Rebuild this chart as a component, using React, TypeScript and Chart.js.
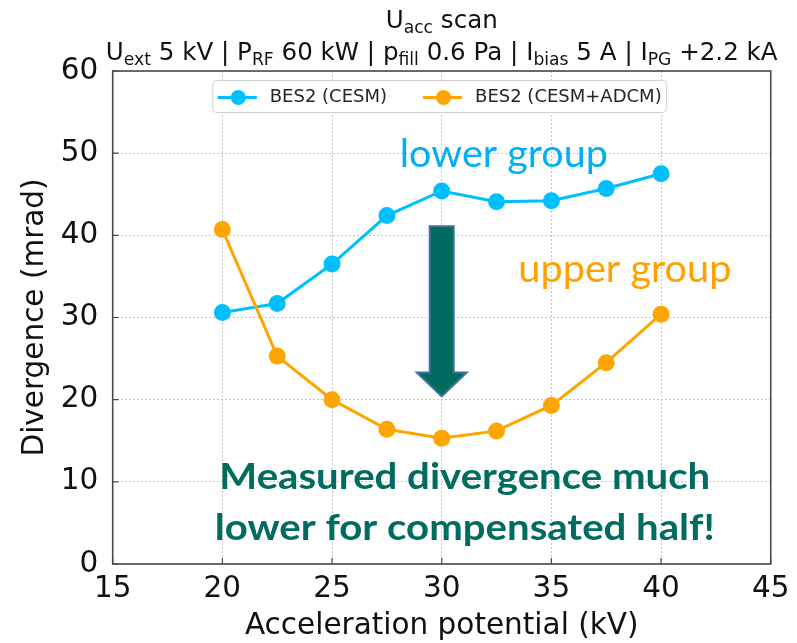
import React, { useEffect, useRef } from "react";
import { Chart, registerables } from "chart.js";

Chart.register(...registerables);

// Acceleration potential (kV) of each scan step
const accelerationKV = [20, 22.5, 25, 27.5, 30, 32.5, 35, 37.5, 40];
// Measured divergence (mrad) of the two beamlet groups
const divergenceCESM = [30.6, 31.7, 36.5, 42.4, 45.4, 44.1, 44.2, 45.7, 47.5];
const divergenceCESMADCM = [40.7, 25.3, 20.0, 16.4, 15.3, 16.2, 19.3, 24.5, 30.4];

const seriesNames = ["BES2 (CESM)", "BES2 (CESM+ADCM)"];
const seriesColors = ["#00BFFF", "#FFA500"];

const xLimits = [15, 45];
const xStep = 5;
const yLimits = [0, 60];
const yStep = 10;

const xAxisTitle = "Acceleration potential (kV)";
const yAxisTitle = "Divergence (mrad)";

type Seg = { t: string; sub?: boolean };
const titleLine: Seg[] = [{ t: "U" }, { t: "acc", sub: true }, { t: " scan" }];
const subtitleLine: Seg[] = [
  { t: "U" }, { t: "ext", sub: true }, { t: " 5 kV | P" }, { t: "RF", sub: true },
  { t: " 60 kW | p" }, { t: "fill", sub: true }, { t: " 0.6 Pa | I" }, { t: "bias", sub: true },
  { t: " 5 A | I" }, { t: "PG", sub: true }, { t: " +2.2 kA" },
];

const lowerGroupLabel = "lower group";
const upperGroupLabel = "upper group";
const conclusionLines = ["Measured divergence much", "lower for compensated half!"];

const MPL_FONT = '"DejaVu Sans", "Liberation Sans", sans-serif';
const SLIDE_FONT = 'Lato, "Open Sans", "Noto Sans", sans-serif';
const TEAL = "#006B5F";

function richWidth(ctx: CanvasRenderingContext2D, segs: Seg[], size: number) {
  let w = 0;
  for (const s of segs) {
    ctx.font = `${s.sub ? size * 0.7 : size}px ${MPL_FONT}`;
    w += ctx.measureText(s.t).width;
  }
  return w;
}

function drawRich(ctx: CanvasRenderingContext2D, segs: Seg[], cx: number, base: number, size: number) {
  const total = richWidth(ctx, segs, size);
  let x = cx - total / 2;
  ctx.textAlign = "left";
  ctx.textBaseline = "alphabetic";
  ctx.fillStyle = "#111";
  for (const s of segs) {
    ctx.font = `${s.sub ? size * 0.7 : size}px ${MPL_FONT}`;
    ctx.fillText(s.t, x, base + (s.sub ? size * 0.2 : 0));
    x += ctx.measureText(s.t).width;
  }
}

// Slide text: font size sets the glyph height, a horizontal factor sets the line width
function drawSlideText(
  ctx: CanvasRenderingContext2D, text: string, cx: number, base: number,
  font: string, sx: number, color: string
) {
  ctx.save();
  ctx.font = font;
  ctx.translate(cx, base);
  ctx.scale(sx, 1);
  ctx.textAlign = "center";
  ctx.textBaseline = "alphabetic";
  ctx.fillStyle = color;
  ctx.fillText(text, 0, 0);
  ctx.restore();
}

function widthFactor(ctx: CanvasRenderingContext2D, text: string, font: string, target: number) {
  ctx.font = font;
  return target / ctx.measureText(text).width;
}

const overlayPlugin = {
  id: "overlay",
  afterDatasetsDraw(chart: any) {
    const { ctx, scales } = chart;
    const x = scales.x;
    const y = scales.y;
    ctx.save();

    // downward arrow between the two groups
    const ax = x.getPixelForValue(30);
    const top = y.getPixelForValue(41.1);
    const tip = y.getPixelForValue(20.4);
    const shaft = 12;
    const head = 25;
    const headLen = 24;
    ctx.beginPath();
    ctx.moveTo(ax - shaft, top);
    ctx.lineTo(ax + shaft, top);
    ctx.lineTo(ax + shaft, tip - headLen);
    ctx.lineTo(ax + head, tip - headLen);
    ctx.lineTo(ax, tip);
    ctx.lineTo(ax - head, tip - headLen);
    ctx.lineTo(ax - shaft, tip - headLen);
    ctx.closePath();
    ctx.fillStyle = TEAL;
    ctx.fill();
    ctx.lineWidth = 2;
    ctx.strokeStyle = "#41719C";
    ctx.lineJoin = "miter";
    ctx.stroke();

    // group labels
    const groupFont = `39px ${SLIDE_FONT}`;
    drawSlideText(ctx, lowerGroupLabel, x.getPixelForValue(32.83), y.getPixelForValue(48.35), groupFont,
      widthFactor(ctx, lowerGroupLabel, groupFont, 208), "#00B0F0");
    drawSlideText(ctx, upperGroupLabel, x.getPixelForValue(38.35), y.getPixelForValue(34.35), groupFont,
      widthFactor(ctx, upperGroupLabel, groupFont, 213), "#FFA000");

    // conclusion
    const boldFont = `bold 36px ${SLIDE_FONT}`;
    const sx = widthFactor(ctx, conclusionLines[1], boldFont, 500);
    const cx = x.getPixelForValue(31.05);
    drawSlideText(ctx, conclusionLines[0], cx, y.getPixelForValue(9.1), boldFont, sx, TEAL);
    drawSlideText(ctx, conclusionLines[1], cx, y.getPixelForValue(2.9), boldFont, sx, TEAL);
    ctx.restore();
  },
  afterDraw(chart: any) {
    const { ctx, chartArea: a, scales } = chart;
    const x = scales.x;
    const y = scales.y;
    ctx.save();

    // axes frame
    ctx.strokeStyle = "#4a4a4a";
    ctx.lineWidth = 1.6;
    ctx.strokeRect(a.left, a.top, a.right - a.left, a.bottom - a.top);

    // inward tick marks
    ctx.lineWidth = 1.2;
    ctx.beginPath();
    for (const t of x.ticks) {
      const px = x.getPixelForValue(t.value);
      ctx.moveTo(px, a.bottom);
      ctx.lineTo(px, a.bottom - 6);
    }
    for (const t of y.ticks) {
      const py = y.getPixelForValue(t.value);
      ctx.moveTo(a.left, py);
      ctx.lineTo(a.left + 6, py);
    }
    ctx.stroke();

    // legend
    const lf = `18px ${MPL_FONT}`;
    ctx.font = lf;
    const handle = 39;
    const gapText = 13;
    const colGap = 36;
    const pad = 5;
    const widths = seriesNames.map((n) => ctx.measureText(n).width);
    const boxW = pad * 2 + widths.reduce((s, w) => s + handle + gapText + w, 0) + colGap * (seriesNames.length - 1);
    const boxH = 32;
    const bx = (a.left + a.right) / 2 - boxW / 2 - 2;
    const by = a.top + 9.5;
    ctx.beginPath();
    (ctx as any).roundRect(bx, by, boxW, boxH, 4);
    ctx.fillStyle = "rgba(255,255,255,0.92)";
    ctx.fill();
    ctx.lineWidth = 1;
    ctx.strokeStyle = "#d0d0d0";
    ctx.stroke();
    let lx = bx + pad;
    const ly = by + boxH / 2 + 1;
    seriesNames.forEach((name, i) => {
      ctx.strokeStyle = seriesColors[i];
      ctx.lineWidth = 3;
      ctx.beginPath();
      ctx.moveTo(lx, ly);
      ctx.lineTo(lx + handle, ly);
      ctx.stroke();
      ctx.fillStyle = seriesColors[i];
      ctx.beginPath();
      ctx.arc(lx + handle / 2 + 1, ly, 7.5, 0, Math.PI * 2);
      ctx.fill();
      ctx.fillStyle = "#262626";
      ctx.font = lf;
      ctx.textAlign = "left";
      ctx.textBaseline = "middle";
      ctx.fillText(name, lx + handle + gapText, ly);
      lx += handle + gapText + widths[i] + colGap;
    });

    // two-line title with subscripts
    const base = 24;
    const size = base * 672 / richWidth(ctx, subtitleLine, base);
    const tcx = (a.left + a.right) / 2;
    drawRich(ctx, titleLine, tcx, 28, size);
    drawRich(ctx, subtitleLine, tcx, 60, size);
    ctx.restore();
  },
};

export default function App() {
  const canvasRef = useRef<HTMLCanvasElement | null>(null);

  useEffect(() => {
    const canvas = canvasRef.current;
    if (!canvas) return;
    const mkPoints = (vals: number[]) => accelerationKV.map((v, i) => ({ x: v, y: vals[i] }));
    const tickFont = { family: MPL_FONT, size: 29.5 };
    const chart = new Chart(canvas, {
      type: "line",
      data: {
        datasets: [
          {
            label: seriesNames[0],
            data: mkPoints(divergenceCESM),
            borderColor: seriesColors[0],
            backgroundColor: seriesColors[0],
            pointBackgroundColor: seriesColors[0],
            borderWidth: 3,
            pointRadius: 8.5,
            pointBorderWidth: 0,
            tension: 0,
            order: 1,
          },
          {
            label: seriesNames[1],
            data: mkPoints(divergenceCESMADCM),
            borderColor: seriesColors[1],
            backgroundColor: seriesColors[1],
            pointBackgroundColor: seriesColors[1],
            borderWidth: 3,
            pointRadius: 8.5,
            pointBorderWidth: 0,
            tension: 0,
            order: 0,
          },
        ],
      },
      options: {
        responsive: false,
        animation: false,
        devicePixelRatio: 1,
        layout: { padding: { top: 71, right: 26, left: 0, bottom: 0 } },
        plugins: {
          legend: { display: false },
          tooltip: { enabled: false },
          title: { display: false },
        },
        scales: {
          x: {
            type: "linear",
            min: xLimits[0],
            max: xLimits[1],
            ticks: { stepSize: xStep, padding: 7.5, font: tickFont, color: "#111", maxRotation: 0, autoSkip: false },
            grid: { color: "#c4c4c4", lineWidth: 1, drawTicks: false },
            border: { display: false, dash: [2, 2] },
            title: {
              display: true,
              text: xAxisTitle,
              color: "#111",
              font: { family: MPL_FONT, size: 29.5, lineHeight: 1 },
              padding: { top: 0, bottom: 1.7 },
            },
            afterFit: (s: any) => { s.height = 79; },
          },
          y: {
            type: "linear",
            min: yLimits[0],
            max: yLimits[1],
            ticks: { stepSize: yStep, padding: 14.5, font: tickFont, color: "#111", autoSkip: false },
            grid: { color: "#c4c4c4", lineWidth: 1, drawTicks: false },
            border: { display: false, dash: [2, 2] },
            title: {
              display: true,
              text: yAxisTitle,
              color: "#111",
              font: { family: MPL_FONT, size: 29.5, lineHeight: 1 },
              padding: { top: 20.5, bottom: 0 },
            },
            afterFit: (s: any) => { s.width = 112.7; },
          },
        },
      } as any,
      plugins: [overlayPlugin as any],
    });
    return () => chart.destroy();
  }, []);

  return (
    <div style={{ position: "absolute", left: 0, top: 0, width: 797, height: 643, background: "#fff" }}>
      <canvas ref={canvasRef} width={797} height={643} style={{ display: "block" }} />
    </div>
  );
}
